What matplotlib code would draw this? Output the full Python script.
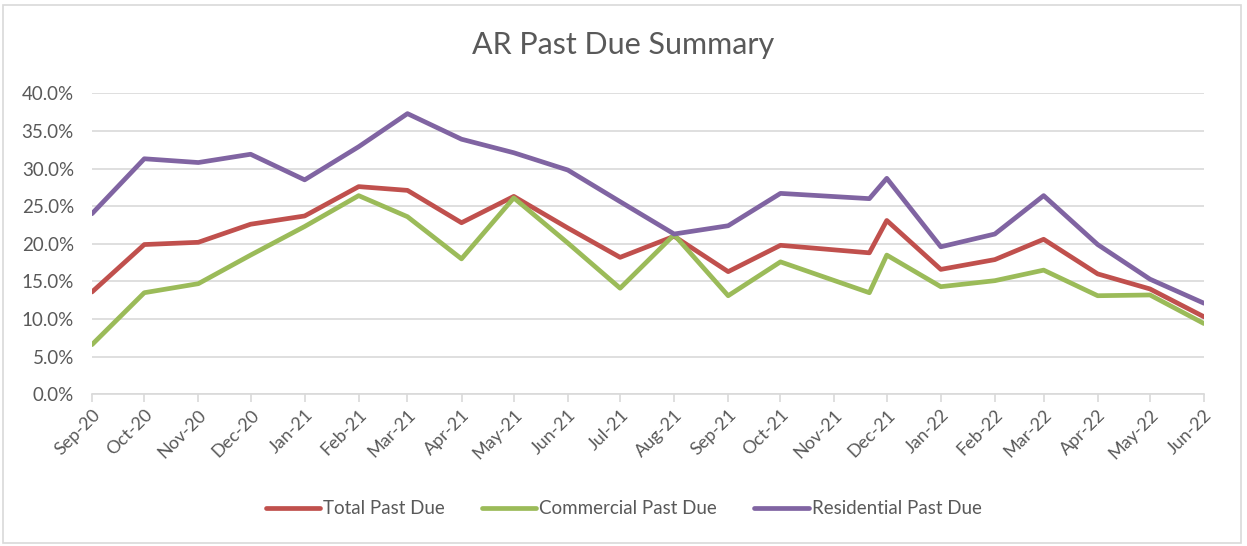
import matplotlib
matplotlib.use("Agg")
import matplotlib.pyplot as plt
import matplotlib.dates as mdates
from matplotlib.ticker import PercentFormatter, MultipleLocator
from matplotlib.patches import Rectangle
import datetime as dt

plt.rcParams['font.family'] = ['Lato', 'DejaVu Sans']

dates = ["2020-09-01", "2020-10-01", "2020-11-01", "2020-12-01", "2021-01-01",
         "2021-02-01", "2021-03-01", "2021-04-01", "2021-05-01", "2021-06-01",
         "2021-07-01", "2021-08-01", "2021-09-01", "2021-10-01", "2021-11-21",
         "2021-12-01", "2022-01-01", "2022-02-01", "2022-03-01", "2022-04-01",
         "2022-05-01", "2022-06-01"]
total_past_due = [13.6, 19.9, 20.2, 22.6, 23.7, 27.6, 27.1, 22.8, 26.3, 22.1,
                  18.2, 21.0, 16.3, 19.8, 18.8, 23.1, 16.6, 17.9, 20.6, 16.0,
                  14.0, 10.3]
commercial_past_due = [6.6, 13.5, 14.7, 18.5, 22.3, 26.4, 23.6, 18.0, 26.1, 20.1,
                       14.1, 21.2, 13.1, 17.6, 13.5, 18.5, 14.3, 15.1, 16.5, 13.1,
                       13.2, 9.4]
residential_past_due = [24.0, 31.3, 30.8, 31.9, 28.5, 32.9, 37.3, 33.9, 32.1, 29.8,
                        25.6, 21.3, 22.4, 26.7, 26.0, 28.7, 19.6, 21.3, 26.4, 19.9,
                        15.3, 12.1]
tick_months = ["2020-09-01", "2020-10-01", "2020-11-01", "2020-12-01", "2021-01-01",
               "2021-02-01", "2021-03-01", "2021-04-01", "2021-05-01", "2021-06-01",
               "2021-07-01", "2021-08-01", "2021-09-01", "2021-10-01", "2021-11-01",
               "2021-12-01", "2022-01-01", "2022-02-01", "2022-03-01", "2022-04-01",
               "2022-05-01", "2022-06-01"]

x = [dt.datetime.strptime(d, "%Y-%m-%d") for d in dates]
xt = [dt.datetime.strptime(d, "%Y-%m-%d") for d in tick_months]

W, H = 1247, 546
fig = plt.figure(figsize=(W / 100, H / 100), dpi=100)

# chart border
fig.patches.append(Rectangle((3 / W, 3 / H), (1241 - 3) / W, (541 - 3) / H,
                             transform=fig.transFigure, fill=False,
                             edgecolor="#D9D9D9", linewidth=1.2))

left, right = 92 / W, 1204 / W
bottom, top = (H - 394.3) / H, (H - 93.3) / H
ax = fig.add_axes([left, bottom, right - left, top - bottom])

grid_c = "#D9D9D9"
text_c = "#595959"
series = [
    ("Total Past Due", total_past_due, "#C0504D"),
    ("Commercial Past Due", commercial_past_due, "#9BBB59"),
    ("Residential Past Due", residential_past_due, "#8064A2"),
]
for label, vals, c in series:
    ax.plot(x, [v / 100 for v in vals], color=c, linewidth=3.4, label=label,
            solid_joinstyle="round", solid_capstyle="round", zorder=3)

ax.set_xlim(xt[0], xt[-1])
ax.set_ylim(0, 0.40)
ax.yaxis.set_major_locator(MultipleLocator(0.05))
ax.yaxis.set_major_formatter(PercentFormatter(1.0, decimals=1))
ax.set_xticks(xt)
ax.xaxis.set_major_formatter(mdates.DateFormatter("%b-%y"))
plt.setp(ax.get_xticklabels(), rotation=45, ha="right", rotation_mode="anchor")

ax.grid(axis="y", color=grid_c, linewidth=1.2, zorder=0)
ax.set_axisbelow(True)
for s in ["top", "right", "left"]:
    ax.spines[s].set_visible(False)
ax.spines["bottom"].set_color(grid_c)
ax.spines["bottom"].set_linewidth(1.2)
ax.tick_params(axis="y", length=0, pad=13, labelsize=13.5, labelcolor=text_c)
ax.tick_params(axis="x", length=6, width=1.2, color=grid_c, pad=3,
               labelsize=13, labelcolor=text_c)

fig.text(0.5, (H - 45) / H, "AR Past Due Summary", ha="center", va="center",
         fontsize=22, color=text_c)

leg = fig.legend(loc="center", bbox_to_anchor=(0.5, (H - 509) / H), ncol=3,
                 frameon=False, fontsize=13.5, handlelength=2.9,
                 handletextpad=0.15, columnspacing=2.0, labelcolor=text_c)
for h in leg.get_lines():
    h.set_linewidth(3.4)

fig.savefig("out.png", dpi=100)
